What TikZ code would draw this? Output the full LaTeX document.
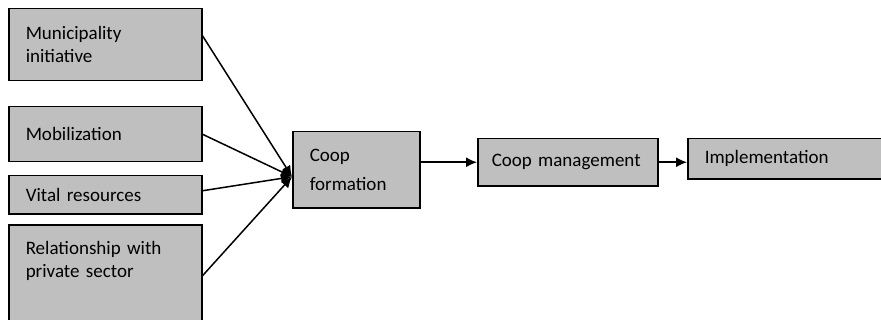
\documentclass[tikz,border=0pt]{standalone}
\usepackage{fontspec}
\setmainfont{Carlito}
\usetikzlibrary{positioning}
\usetikzlibrary{arrows.meta}

\definecolor{boxgray}{RGB}{191,191,191}

\begin{document}
\begin{tikzpicture}[>={Latex[length=5.5pt,width=5pt]},x=0.5pt,y=-0.5pt,line width=0.75pt,
	font=\fontsize{9.5}{11.5}\selectfont]
	\useasboundingbox (0,0) rectangle (881,320);
	% factors on the left
	\node [draw,fill=boxgray,anchor=north west,align=left,text width=79.5pt,inner xsep=8.5pt,minimum height=36pt] at (8,8) (muni) {Municipality\\initiative};
	\node [draw,fill=boxgray,anchor=north west,align=left,text width=79.5pt,inner xsep=8.5pt,minimum height=27.5pt] at (8,106) (mobil) {Mobilization};
	\node [draw,fill=boxgray,anchor=north west,align=left,text width=79.5pt,inner xsep=8.5pt,minimum height=19pt] at (8,175) (vital) {Vital resources};
	\node [draw,fill=boxgray,anchor=north west,align=left,text width=79.5pt,inner xsep=8.5pt,minimum height=58pt] at (8,224) (relat) {Relationship with\\private sector\\~\\~};

	% process chain
	\node [draw,fill=boxgray,anchor=north west,align=left,text width=46.5pt,inner xsep=8.5pt,minimum height=38pt] at (292,131) (form) {Coop\\[3pt]formation};
	\node [draw,fill=boxgray,anchor=north west,align=left,text width=76pt,inner xsep=7pt,minimum height=23.5pt] at (477,138) (mgmt) {Coop~management};
	\node [draw,fill=boxgray,anchor=north west,align=left,text width=80pt,inner xsep=8.5pt,minimum height=20pt] at (687,138) (impl) {Implementation};

	\coordinate (join) at ([yshift=-3.5pt]form.west);

	\draw[->] ([yshift=4.5pt]muni.east) -- (join);
	\draw[->] (mobil.east) -- (join);
	\draw[->] ([yshift=2pt]vital.east) -- (join);
	\draw[->] ([yshift=3.5pt]relat.east) -- (join);

	\draw[->] (form.east |- mgmt.west) -- (mgmt.west);
	\draw[->] (mgmt.east) -- (mgmt.east -| impl.west);
\end{tikzpicture}
\end{document}
